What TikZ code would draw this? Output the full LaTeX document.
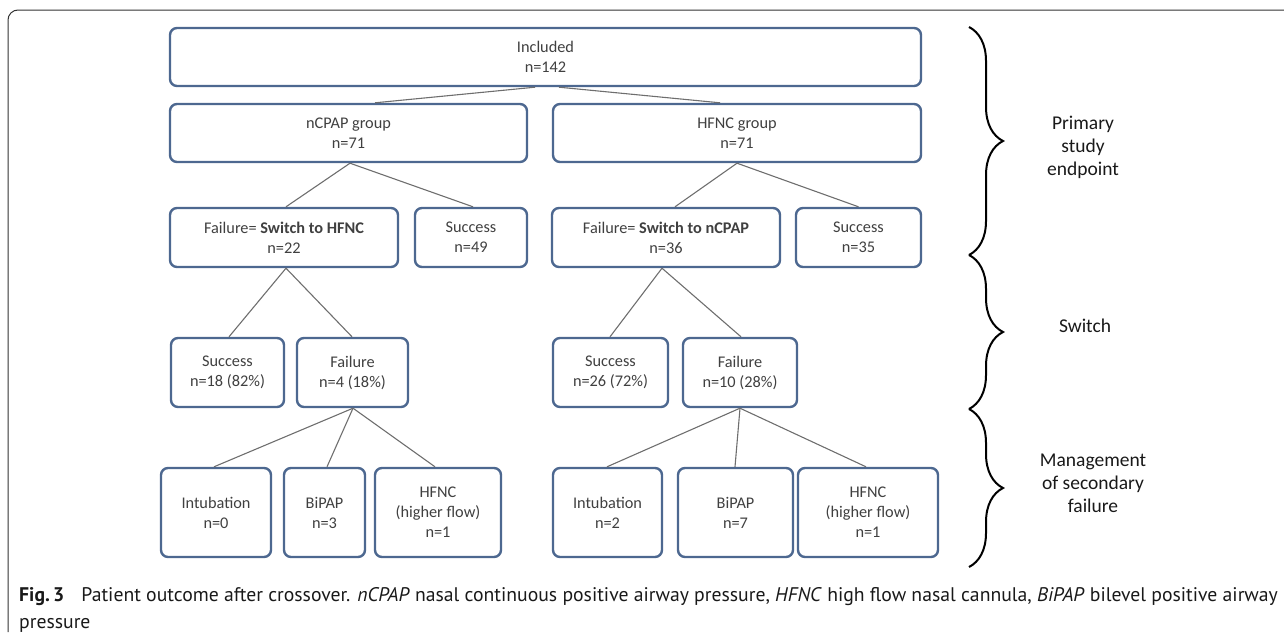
\documentclass[tikz,border=0pt]{standalone}
\usepackage{fontspec}
\setmainfont{Carlito}
\newfontfamily\capfont{PT Sans}
\usetikzlibrary{decorations.pathreplacing}
\definecolor{boxc}{HTML}{4D6890}
\definecolor{linec}{HTML}{6E6E6E}
\definecolor{txt}{HTML}{404040}
\definecolor{frm}{HTML}{333333}
\tikzset{
  box/.style={draw=boxc, line width=2.4pt, rounded corners=7pt, fill=white, align=center,
    inner sep=0pt, text=txt, font=\fontsize{16.3}{20}\selectfont},
  conn/.style={draw=linec, line width=1.1pt},
  curly/.style={draw=black, line width=2pt, decorate, decoration={brace, amplitude=34pt}},
  side/.style={align=center, text=black!90, font=\fontsize{19.5}{23}\selectfont},
  captxt/.style={anchor=base west, inner sep=0pt, text=black!90, font=\capfont\fontsize{19.7}{22}\selectfont}
}
\begin{document}
\begin{tikzpicture}[x=1pt, y=-1pt]
\useasboundingbox (0,0) rectangle (1284,632);
\draw[frm, line width=1pt, rounded corners=10pt] (8,632) -- (8,10) -- (1284,10);

% row 1
\node[box, minimum width=751pt, minimum height=58pt] (inc) at (545.5,57) {Included\\n=142};
% row 2
\node[box, minimum width=357pt, minimum height=58pt] (ncpap) at (348.5,133) {nCPAP group\\n=71};
\node[box, minimum width=368pt, minimum height=58pt] (hfnc) at (737,133) {HFNC group\\n=71};
% row 3
\node[box, minimum width=228pt, minimum height=59pt] (fail1) at (284,237.5) {Failure= \textbf{Switch to HFNC}\\n=22};
\node[box, minimum width=112pt, minimum height=59pt] (succ1) at (471,237.5) {Success\\n=49};
\node[box, minimum width=228pt, minimum height=59pt] (fail2) at (666,237.5) {Failure= \textbf{Switch to nCPAP}\\n=36};
\node[box, minimum width=125pt, minimum height=59pt] (succ2) at (858.5,237.5) {Success\\n=35};
% row 4
\node[box, minimum width=113pt, minimum height=69pt] (s18) at (227.5,372.5) {Success\\n=18 (82\%)};
\node[box, minimum width=111pt, minimum height=69pt] (f4) at (352.5,372.5) {Failure\\n=4 (18\%)};
\node[box, minimum width=115pt, minimum height=69pt] (s26) at (610.5,372.5) {Success\\n=26 (72\%)};
\node[box, minimum width=114pt, minimum height=69pt] (f10) at (740,372.5) {Failure\\n=10 (28\%)};
% row 5
\node[box, minimum width=110pt, minimum height=89pt] (int0) at (216,512.5) {Intubation\\n=0};
\node[box, minimum width=81pt, minimum height=89pt] (bip3) at (324.5,512.5) {BiPAP\\n=3};
\node[box, minimum width=126pt, minimum height=89pt] (hf1) at (438,512.5) {HFNC\\(higher flow)\\n=1};
\node[box, minimum width=109pt, minimum height=89pt] (int2) at (607.5,512.5) {Intubation\\n=2};
\node[box, minimum width=115pt, minimum height=89pt] (bip7) at (735.5,512.5) {BiPAP\\n=7};
\node[box, minimum width=140pt, minimum height=89pt] (hf2) at (868,512.5) {HFNC\\(higher flow)\\n=1};

% connectors
\draw[conn] ([xshift=-10.5pt]inc.south) -- ([xshift=26.5pt]ncpap.north);
\draw[conn] ([xshift=13.5pt]inc.south) -- ([xshift=-17pt]hfnc.north);
\draw[conn] ([xshift=1.5pt]ncpap.south) -- ([xshift=2pt]fail1.north);
\draw[conn] ([xshift=1.5pt]ncpap.south) -- ([xshift=2pt]succ1.north);
\draw[conn] (hfnc.south) -- ([xshift=9pt]fail2.north);
\draw[conn] (hfnc.south) -- (succ2.north);
\draw[conn] ([xshift=2pt]fail1.south) -- ([xshift=1.5pt]s18.north);
\draw[conn] ([xshift=2pt]fail1.south) -- ([xshift=-0.5pt]f4.north);
\draw[conn] ([xshift=-4pt]fail2.south) -- ([xshift=-0.5pt]s26.north);
\draw[conn] ([xshift=-4pt]fail2.south) -- ([xshift=1pt]f10.north);
\draw[conn] ([xshift=0.5pt]f4.south) -- ([xshift=-2pt]int0.north);
\draw[conn] ([xshift=0.5pt]f4.south) -- ([xshift=2.5pt]bip3.north);
\draw[conn] ([xshift=0.5pt]f4.south) -- ([xshift=-3pt]hf1.north);
\draw[conn] (f10.south) -- ([xshift=-0.5pt]int2.north);
\draw[conn] (f10.south) -- ([xshift=-0.5pt]bip7.north);
\draw[conn] (f10.south) -- ([xshift=-2pt]hf2.north);

% braces
\coordinate (b0) at (969,27);
\coordinate (b1) at (969,255);
\coordinate (b2) at (969,409);
\coordinate (b3) at (969,567);
\draw[curly] (b0) -- (b1);
\draw[curly] (b1) -- (b2);
\draw[curly] (b2) -- (b3);

\node[side] (l1) at (1083,147) {Primary\\study\\endpoint};
\node[side] (l2) at (1085,326) {Switch};
\node[side] (l3) at (1093,483) {Management\\of secondary\\failure};

% caption
\node[captxt] (c1) at (19,601) {\textbf{Fig.\,3}\hspace{0.6em} Patient outcome after crossover. \textit{nCPAP} nasal continuous positive airway pressure, \textit{HFNC} high flow nasal cannula, \textit{BiPAP} bilevel positive airway};
\node[captxt] (c2) at (19,628) {pressure};
\end{tikzpicture}
\end{document}
